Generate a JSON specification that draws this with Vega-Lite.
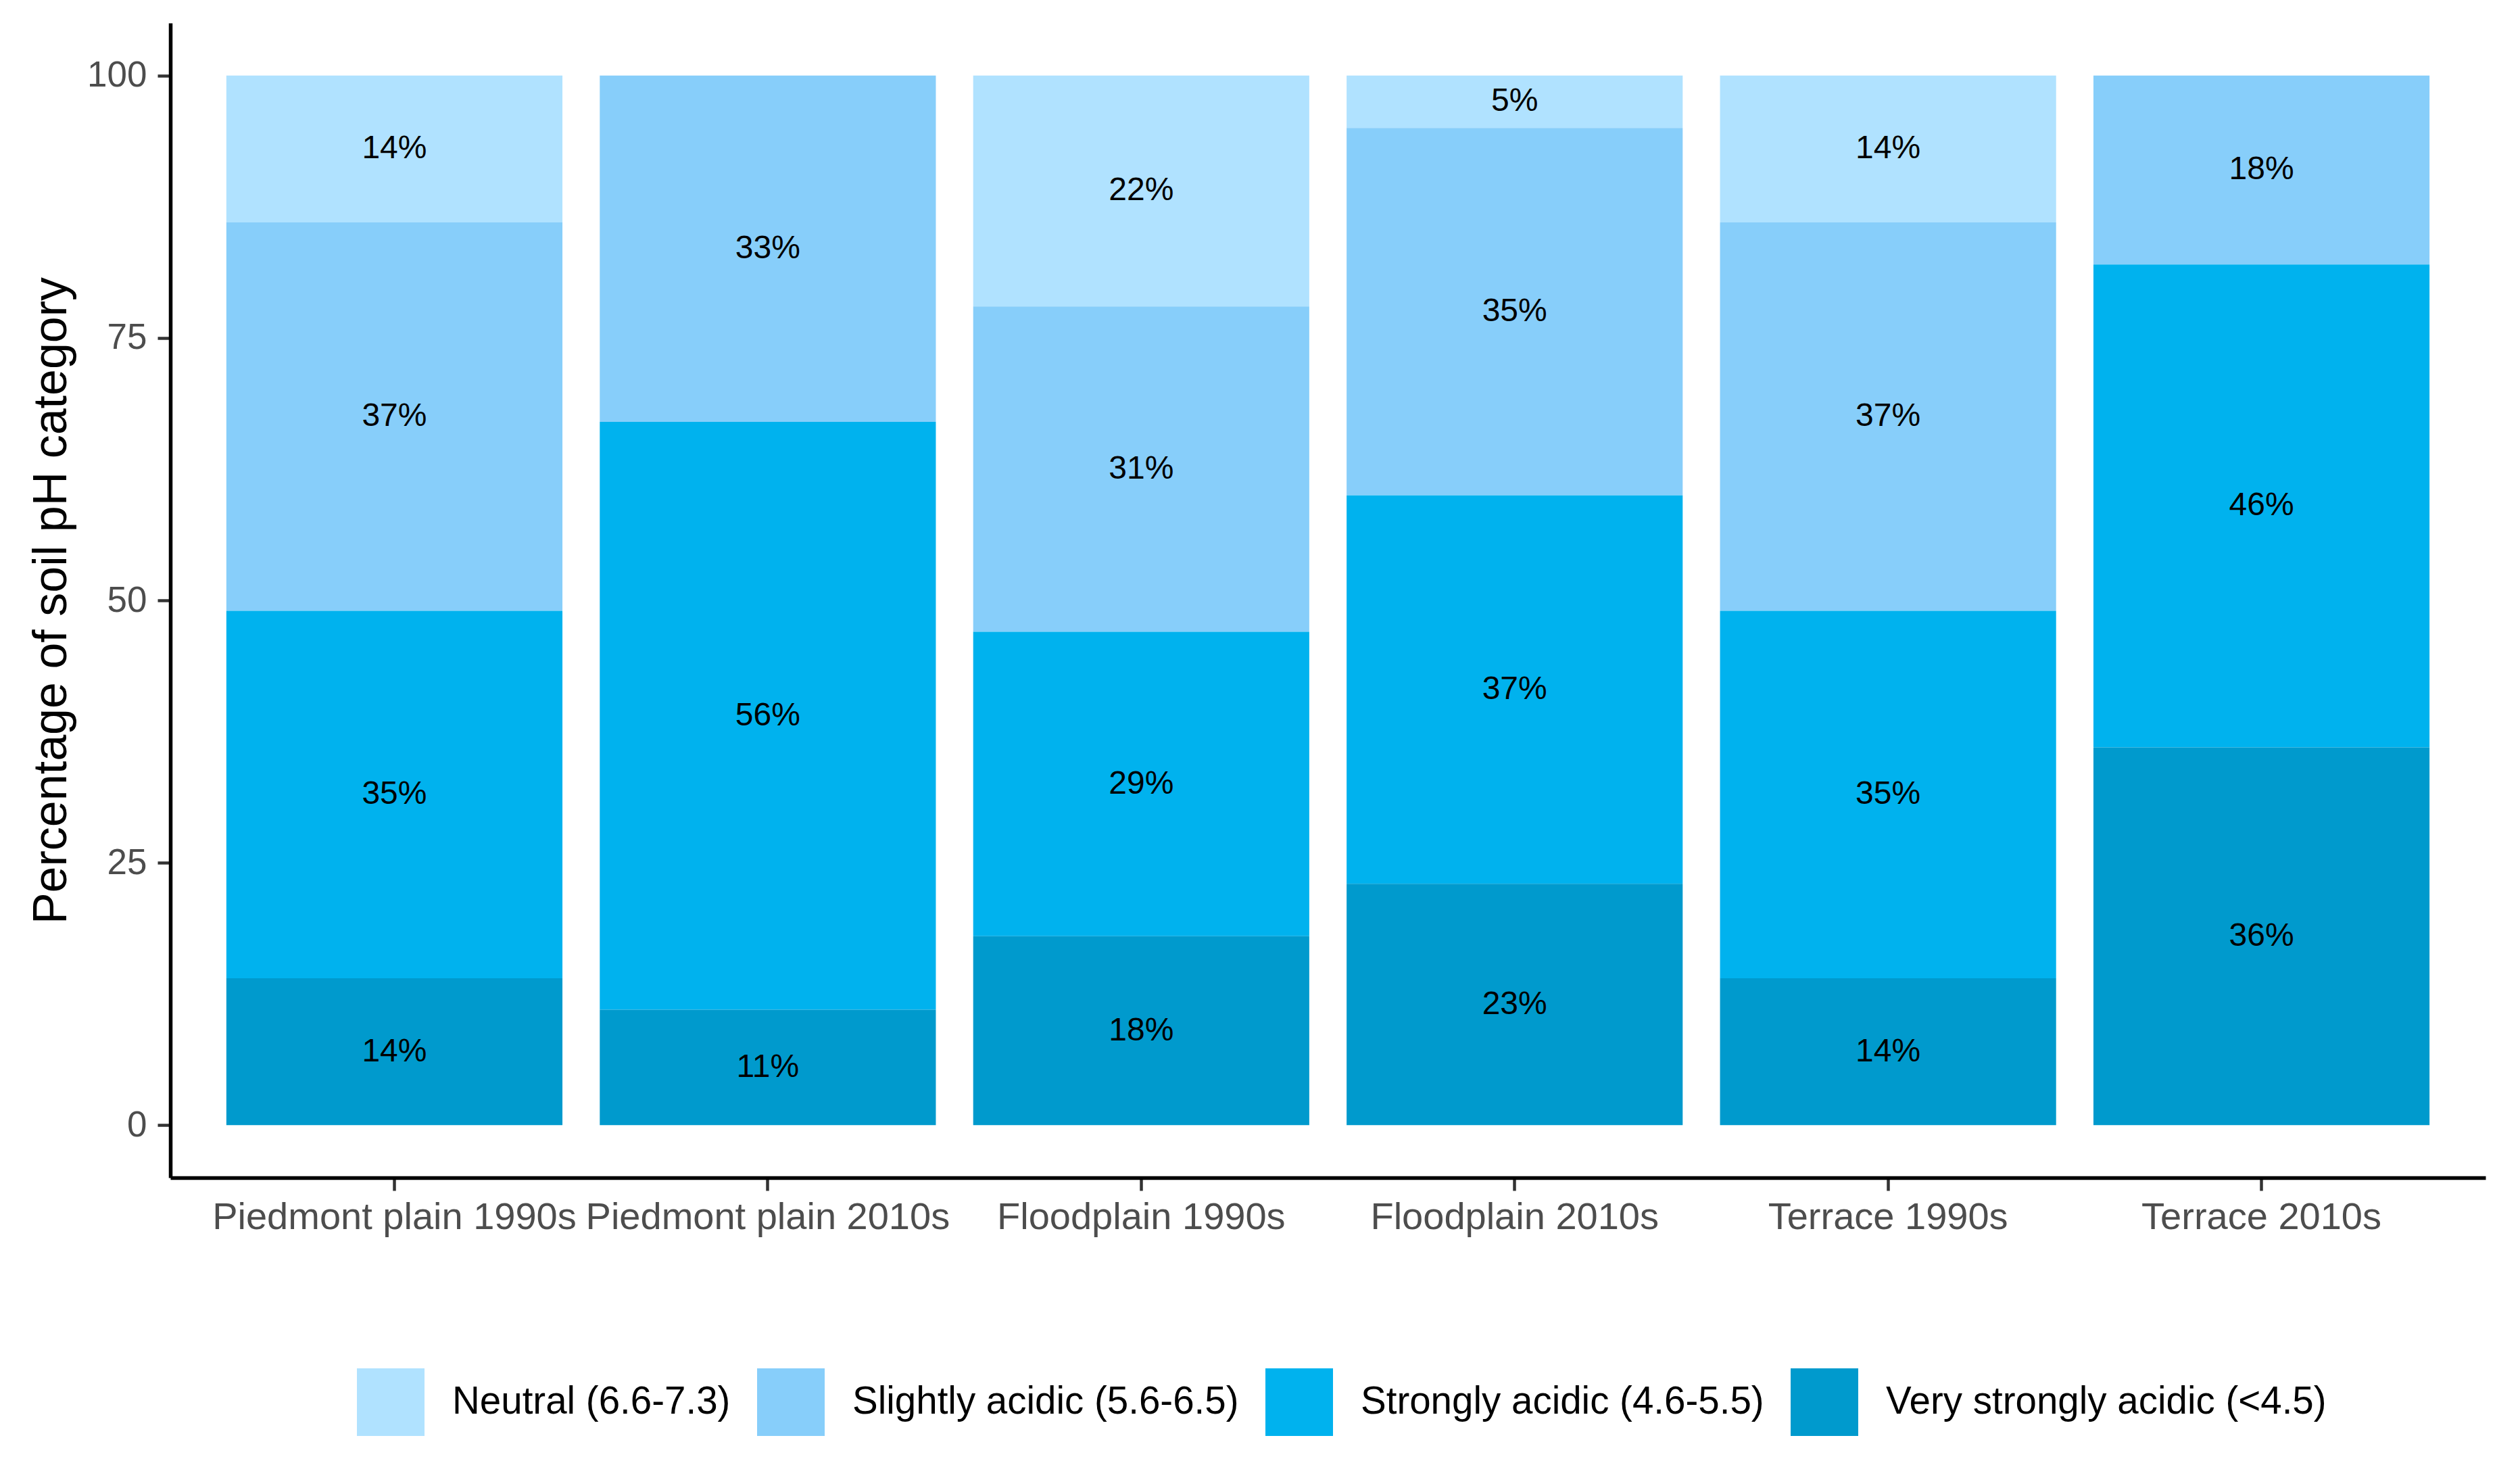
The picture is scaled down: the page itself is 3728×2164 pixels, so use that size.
{
  "$schema": "https://vega.github.io/schema/vega-lite/v6.json",
  "width": 3425,
  "height": 1708,
  "autosize": {"type": "none"},
  "padding": {"left": 252, "top": 34, "right": 51, "bottom": 422},
  "background": "white",
  "config": {"view": {"stroke": null}, "font": "Liberation Sans"},
  "data": {
    "values": [
      {"group": "Piedmont plain 1990s", "category": "Neutral (6.6-7.3)", "value": 14},
      {"group": "Piedmont plain 1990s", "category": "Slightly acidic (5.6-6.5)", "value": 37},
      {"group": "Piedmont plain 1990s", "category": "Strongly acidic (4.6-5.5)", "value": 35},
      {"group": "Piedmont plain 1990s", "category": "Very strongly acidic (<4.5)", "value": 14},
      {"group": "Piedmont plain 2010s", "category": "Slightly acidic (5.6-6.5)", "value": 33},
      {"group": "Piedmont plain 2010s", "category": "Strongly acidic (4.6-5.5)", "value": 56},
      {"group": "Piedmont plain 2010s", "category": "Very strongly acidic (<4.5)", "value": 11},
      {"group": "Floodplain 1990s", "category": "Neutral (6.6-7.3)", "value": 22},
      {"group": "Floodplain 1990s", "category": "Slightly acidic (5.6-6.5)", "value": 31},
      {"group": "Floodplain 1990s", "category": "Strongly acidic (4.6-5.5)", "value": 29},
      {"group": "Floodplain 1990s", "category": "Very strongly acidic (<4.5)", "value": 18},
      {"group": "Floodplain 2010s", "category": "Neutral (6.6-7.3)", "value": 5},
      {"group": "Floodplain 2010s", "category": "Slightly acidic (5.6-6.5)", "value": 35},
      {"group": "Floodplain 2010s", "category": "Strongly acidic (4.6-5.5)", "value": 37},
      {"group": "Floodplain 2010s", "category": "Very strongly acidic (<4.5)", "value": 23},
      {"group": "Terrace 1990s", "category": "Neutral (6.6-7.3)", "value": 14},
      {"group": "Terrace 1990s", "category": "Slightly acidic (5.6-6.5)", "value": 37},
      {"group": "Terrace 1990s", "category": "Strongly acidic (4.6-5.5)", "value": 35},
      {"group": "Terrace 1990s", "category": "Very strongly acidic (<4.5)", "value": 14},
      {"group": "Terrace 2010s", "category": "Slightly acidic (5.6-6.5)", "value": 18},
      {"group": "Terrace 2010s", "category": "Strongly acidic (4.6-5.5)", "value": 46},
      {"group": "Terrace 2010s", "category": "Very strongly acidic (<4.5)", "value": 36}
    ]
  },
  "transform": [
    {"stack": "value", "groupby": ["group"], "sort": [{"field": "category", "order": "descending"}], "as": ["v0", "v1"]},
    {"calculate": "(datum.v0 + datum.v1) / 2", "as": "mid"},
    {"calculate": "datum.value + '%'", "as": "label"}
  ],
  "encoding": {
    "x": {
      "field": "group",
      "type": "nominal",
      "sort": null,
      "scale": {"paddingInner": 0.1, "paddingOuter": 0.15},
      "axis": {
        "title": null,
        "labelAngle": 0,
        "labelFontSize": 56,
        "labelColor": "#4d4d4d",
        "labelPadding": 12,
        "labelLimit": 0,
        "labelOverlap": false,
        "tickSize": 19,
        "tickWidth": 4.5,
        "tickColor": "#333333",
        "domainColor": "#000000",
        "domainWidth": 5.5
      }
    }
  },
  "layer": [
    {
      "mark": {"type": "bar"},
      "encoding": {
        "y": {
          "field": "v0",
          "type": "quantitative",
          "scale": {"domain": [-5, 105], "nice": false, "zero": false},
          "axis": {
            "title": "Percentage of soil pH category",
            "titleFontSize": 70,
            "titleFontWeight": "normal",
            "titleColor": "#000000",
            "titlePadding": 16,
            "values": [0, 25, 50, 75, 100],
            "labelFontSize": 53,
            "labelColor": "#4d4d4d",
            "labelPadding": 16,
            "tickSize": 19,
            "tickWidth": 4.5,
            "tickColor": "#333333",
            "domainColor": "#000000",
            "domainWidth": 5.5,
            "grid": false
          }
        },
        "y2": {"field": "v1"},
        "color": {
          "field": "category",
          "type": "nominal",
          "scale": {
            "domain": ["Neutral (6.6-7.3)", "Slightly acidic (5.6-6.5)", "Strongly acidic (4.6-5.5)", "Very strongly acidic (<4.5)"],
            "range": ["#B0E2FF", "#87CEFA", "#00B2EE", "#009ACD"]
          },
          "legend": {
            "orient": "none",
            "legendX": 276,
            "legendY": 1990,
            "direction": "horizontal",
            "title": null,
            "symbolType": "square",
            "symbolSize": 10000,
            "symbolStrokeWidth": 0,
            "symbolOpacity": 1,
            "labelFontSize": 56.5,
            "labelColor": "#000000",
            "labelOffset": 41,
            "columnPadding": 39,
            "padding": 0,
            "labelLimit": 0
          }
        }
      }
    },
    {
      "mark": {"type": "text", "fontSize": 48, "color": "#000000", "baseline": "middle", "align": "center"},
      "encoding": {
        "y": {"field": "mid", "type": "quantitative"},
        "text": {"field": "label", "type": "nominal"}
      }
    }
  ]
}
